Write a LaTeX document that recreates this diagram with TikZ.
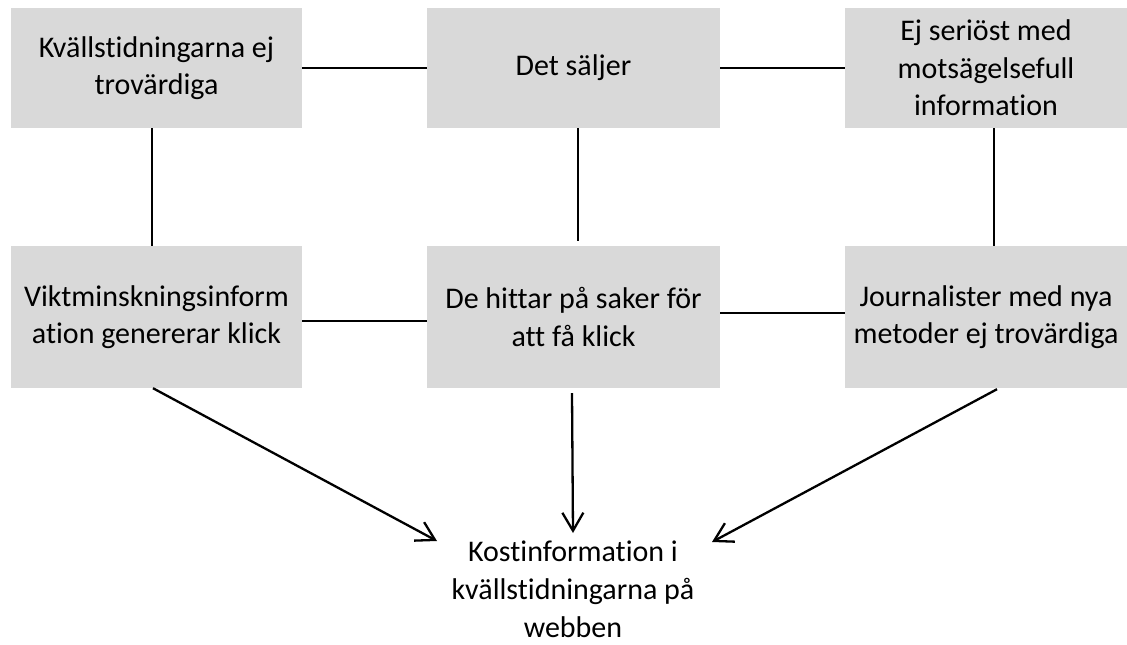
\documentclass[tikz,border=0pt]{standalone}
\usepackage{fontspec}
\setmainfont{Carlito}[Ligatures=NoCommon]
\usetikzlibrary{arrows.meta}
\definecolor{boxgray}{HTML}{D9D9D9}
\begin{document}
\begin{tikzpicture}[x=1pt,y=1pt,
  box/.style={fill=boxgray, inner sep=0pt, align=center, font=\fontsize{30}{37.5}\selectfont},
  lbl/.style={inner sep=0pt, align=center, font=\fontsize{30}{38}\selectfont},
  conn/.style={line width=2.3pt},
  arr/.style={line width=2.3pt, -{Straight Barb[length=18pt,width=21pt,line width=2.3pt]}}]
\useasboundingbox (0,0) rectangle (1127,-645);
% top row
\node[box, minimum width=291pt, minimum height=120pt] (A) at (156.5,-68) {Kvällstidningarna ej\\trovärdiga};
\node[box, minimum width=293pt, minimum height=120pt] (B) at (573.5,-68) {Det säljer};
\node[box, minimum width=282pt, minimum height=120pt] (C) at (986,-68) {Ej seriöst med\\motsägelsefull\\information};
% middle row
\node[box, minimum width=291pt, minimum height=142pt] (D) at (156.5,-317) {Viktminskningsinform\\ation genererar klick};
\node[box, minimum width=293pt, minimum height=142pt] (E) at (573.5,-317) {De hittar på saker för\\att få klick};
\node[box, minimum width=282pt, minimum height=142pt] (F) at (986,-317) {Journalister med nya\\metoder ej trovärdiga};
% bottom
\node[lbl, anchor=base] (G) at (573,-637) {Kostinformation i\\kvällstidningarna på\\webben};
\coordinate (tL) at ([xshift=-136pt,yshift=96pt]G.base);
\coordinate (tM) at ([yshift=104pt]G.base);
\coordinate (tR) at ([xshift=139pt,yshift=95pt]G.base);
% connectors
\draw[conn] (A.east) -- (B.west);
\draw[conn] (B.east) -- (C.west);
\draw[conn] ([xshift=-4.5pt]A.south) -- ([xshift=-4.5pt]D.north);
\draw[conn] ([xshift=4.5pt]B.south) -- ([xshift=4.5pt,yshift=5pt]E.north);
\draw[conn] ([xshift=8pt]C.south) -- ([xshift=8pt]F.north);
\draw[conn] ([yshift=-4pt]D.east) -- ([yshift=-4pt]E.west);
\draw[conn] ([yshift=4pt]E.east) -- ([yshift=4pt]F.west);
% arrows
\draw[arr] ([xshift=-3.5pt]D.south) -- (tL);
\draw[arr] ([xshift=-1.5pt,yshift=-5pt]E.south) -- (tM);
\draw[arr] ([xshift=11pt,yshift=-1pt]F.south) -- (tR);
\end{tikzpicture}
\end{document}
